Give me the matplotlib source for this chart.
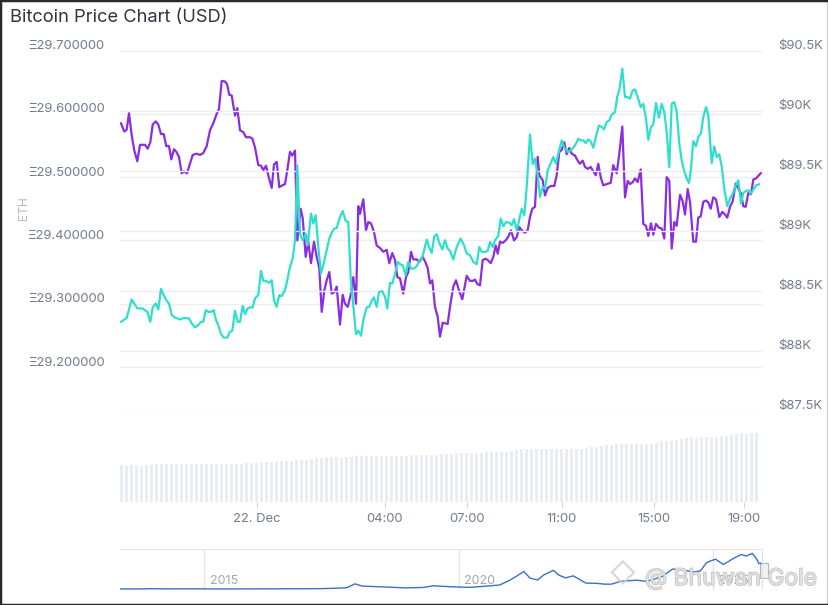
import matplotlib
matplotlib.use("Agg")
import matplotlib.pyplot as plt
import matplotlib.transforms as mtransforms
import matplotlib.patheffects as pe
from matplotlib.patches import Rectangle

plt.rcParams['font.family'] = ['Inter', 'DejaVu Sans']

# position along the (ordinal) time axis, price in ETH
eth_points = [
    (0, 29.585), (3.3, 29.572), (5.7, 29.575), (8, 29.601), (10.7, 29.566), (13.3, 29.542),
    (16.3, 29.525), (19, 29.551), (24, 29.551), (26.7, 29.545), (29.3, 29.555), (31.7, 29.583),
    (34.7, 29.588), (37.3, 29.583), (40, 29.568), (42.7, 29.568), (45.3, 29.549), (48, 29.549),
    (50.3, 29.528), (53, 29.544), (55.3, 29.540), (58, 29.532), (60.7, 29.506), (63, 29.509),
    (66, 29.506), (69, 29.521), (71.7, 29.535), (75.7, 29.537), (79, 29.535), (82.3, 29.538),
    (85.7, 29.549), (89, 29.574), (92.3, 29.585), (95.7, 29.600), (98, 29.608), (100.7, 29.652),
    (104, 29.651), (106, 29.647), (108.3, 29.630), (110.7, 29.629), (114, 29.597), (116.3, 29.609),
    (119, 29.574), (122.3, 29.571), (125, 29.563), (129, 29.563), (131.3, 29.561), (134, 29.547),
    (137.3, 29.519), (140, 29.518), (142.3, 29.511), (145, 29.518), (148, 29.498), (150.7, 29.483),
    (153, 29.520), (155.7, 29.524), (158.3, 29.484), (161.3, 29.487), (164, 29.489), (166.3, 29.511),
    (169, 29.540), (171.3, 29.534), (174, 29.542), (176.3, 29.400), (179.7, 29.450), (181.7, 29.435),
    (184.7, 29.374), (187.3, 29.398), (190, 29.364), (193, 29.398), (195.7, 29.374), (198.3, 29.356),
    (200.7, 29.287), (203.3, 29.321), (205.7, 29.337), (208.3, 29.350), (210.7, 29.316), (213.3, 29.318),
    (215.7, 29.327), (219, 29.267), (221.7, 29.314), (224, 29.300), (226.7, 29.295), (229.7, 29.314),
    (232.3, 29.342), (235, 29.300), (237.3, 29.454), (239, 29.442), (242.3, 29.465), (245, 29.416),
    (247.3, 29.429), (250, 29.427), (253, 29.413), (255.7, 29.392), (259, 29.388), (262.3, 29.382),
    (265.7, 29.385), (268.3, 29.364), (271.3, 29.380), (274, 29.369), (276.3, 29.342), (279, 29.340),
    (282.3, 29.316), (285, 29.342), (287.3, 29.350), (290, 29.382), (292.3, 29.370), (295.7, 29.370),
    (298.3, 29.366), (301.7, 29.374), (304.3, 29.366), (306.7, 29.356), (309, 29.332), (311.3, 29.337),
    (314, 29.295), (316.7, 29.279), (319, 29.248), (321.7, 29.270), (324, 29.269), (326.7, 29.268),
    (329, 29.295), (332.3, 29.327), (335, 29.337), (338, 29.321), (341.3, 29.307), (345.7, 29.344),
    (349, 29.336), (351.7, 29.336), (354, 29.338), (356.3, 29.331), (359, 29.329), (361.7, 29.369),
    (364.7, 29.371), (366.7, 29.369), (369.7, 29.364), (372.3, 29.374), (374.7, 29.392), (376.7, 29.379),
    (379, 29.398), (381.7, 29.396), (384.7, 29.400), (387.3, 29.406), (390, 29.416), (393, 29.400),
    (395.7, 29.405), (398.3, 29.421), (401.3, 29.415), (404, 29.412), (406.7, 29.416), (409, 29.437),
    (411.3, 29.450), (414, 29.453), (416.7, 29.532), (418.3, 29.503), (421.7, 29.495), (424, 29.471),
    (426.7, 29.483), (430, 29.486), (433.3, 29.486), (435.7, 29.503), (438.3, 29.540), (440.7, 29.543),
    (443.3, 29.555), (445.7, 29.536), (448.3, 29.546), (450.7, 29.537), (454, 29.534), (456.7, 29.526),
    (459, 29.521), (461.7, 29.526), (464, 29.516), (466.7, 29.513), (469.7, 29.516), (472.3, 29.509),
    (474.7, 29.503), (477.3, 29.521), (480, 29.498), (482.3, 29.487), (485.7, 29.489), (489.7, 29.491),
    (492.3, 29.519), (495.7, 29.506), (498.3, 29.537), (501.3, 29.580), (504, 29.468), (506.7, 29.494),
    (509, 29.489), (511.7, 29.492), (514, 29.498), (516.7, 29.492), (519.7, 29.512), (522.3, 29.426),
    (525, 29.423), (527.3, 29.407), (530, 29.427), (532.3, 29.409), (535, 29.426), (538, 29.420),
    (540.7, 29.419), (543.3, 29.403), (545.7, 29.500), (548.3, 29.494), (550.7, 29.387), (553.3, 29.429),
    (555.7, 29.423), (559, 29.472), (561.7, 29.462), (564, 29.441), (566.7, 29.481), (569, 29.461),
    (572.3, 29.398), (575, 29.398), (577.3, 29.436), (579.7, 29.438), (582.3, 29.461), (585, 29.463),
    (587.3, 29.460), (589.7, 29.450), (592.3, 29.468), (595, 29.465), (598.3, 29.437), (601.3, 29.445),
    (604, 29.441), (606.3, 29.436), (609, 29.453), (611.7, 29.462), (614.7, 29.490), (617.3, 29.482),
    (620, 29.474), (622.3, 29.454), (624.7, 29.453), (627.3, 29.475), (630, 29.473), (632.3, 29.496),
    (635, 29.498), (638, 29.503), (640.7, 29.508),
]

# position along the time axis, price in USD
usd_points = [
    (0, 88242), (5.7, 88275), (10.7, 88428), (16.3, 88354), (21.3, 88354), (26.3, 88325),
    (29.3, 88242), (31.7, 88362), (34.7, 88395), (37.3, 88345), (40, 88516), (42.7, 88464),
    (45.3, 88422), (48, 88395), (50.7, 88298), (54.7, 88275), (59, 88262), (63, 88275),
    (68, 88270), (70.7, 88229), (74, 88196), (77.3, 88215), (80, 88242), (82.3, 88242),
    (84.7, 88339), (87.3, 88325), (90, 88325), (92.7, 88339), (95, 88256), (97.3, 88215),
    (100, 88140), (103, 88109), (106.3, 88112), (109, 88159), (111.3, 88167), (114, 88334),
    (116.7, 88242), (119, 88242), (121.7, 88375), (124, 88306), (126.7, 88354), (129, 88362),
    (131.7, 88362), (134, 88437), (137.3, 88464), (140, 88666), (142.3, 88583), (145.7, 88580),
    (148, 88566), (150.7, 88589), (153, 88422), (155.7, 88367), (158.3, 88464), (160.7, 88456),
    (164, 88506), (166.3, 88589), (169, 88699), (171.7, 88769), (174, 88921), (176.3, 89544),
    (179, 88977), (181.7, 88921), (184.7, 88977), (186.7, 88880), (190, 89143), (192.3, 89060),
    (194.7, 89129), (197.3, 88865), (200, 88644), (202.3, 88713), (205.7, 88838), (208.3, 88935),
    (210.7, 88982), (213.3, 89018), (215.7, 89023), (219, 89115), (221.7, 89165), (224.7, 89081),
    (227.3, 89073), (229.7, 88603), (235, 88140), (237.3, 88167), (240, 88126), (242.3, 88256),
    (245.7, 88362), (248.3, 88367), (250.7, 88417), (253, 88445), (255.7, 88367), (258, 88491),
    (261.3, 88497), (264, 88450), (266.3, 88354), (269, 88566), (271.3, 88561), (274, 88644),
    (276.7, 88741), (279, 88722), (281.7, 88713), (284.7, 88630), (287.3, 88741), (290, 88686),
    (293, 88686), (295.7, 88705), (298.3, 88749), (301.3, 88782), (303.3, 88844), (305.7, 88927),
    (308, 88865), (310.7, 88816), (313.3, 88954), (315.7, 88971), (318.3, 88899), (321.3, 88844),
    (324, 88921), (326.7, 88852), (329, 88832), (332.3, 88761), (335.7, 88865), (339.7, 88935),
    (343, 88880), (345.7, 88811), (349, 88796), (352.3, 88741), (355.7, 88722), (358.3, 88865),
    (360.7, 88824), (364, 88824), (366.7, 88832), (369, 88907), (371.7, 88865), (374, 88921),
    (377.3, 88957), (379.7, 89101), (382.3, 89037), (385, 89073), (388, 89068), (390.7, 89046),
    (393, 89096), (395.7, 89004), (398.3, 89093), (400.7, 89184), (403.3, 89129), (405.7, 89364),
    (409, 89802), (411.7, 89553), (414, 89600), (416.7, 89461), (419, 89281), (421.7, 89364),
    (424, 89351), (426.7, 89503), (429.3, 89553), (432.3, 89613), (435, 89558), (438.3, 89675),
    (440.7, 89752), (443.3, 89691), (446.7, 89655), (449.7, 89669), (452.3, 89691), (455, 89725),
    (457.3, 89766), (460, 89752), (462.3, 89752), (464.7, 89730), (467.3, 89760), (469.7, 89744),
    (472.3, 89691), (475.7, 89808), (478, 89877), (480.7, 89863), (483, 89843), (485.7, 89904),
    (488.3, 89918), (490.7, 89968), (494, 89987), (496.3, 90118), (498.3, 90168), (501.3, 90348),
    (504, 90112), (506.7, 90112), (509, 90099), (511.7, 90168), (514, 90176), (516.7, 90112),
    (519.7, 90029), (522.3, 90057), (525, 89932), (527.3, 89758), (530, 89863), (532.3, 89885),
    (535, 90062), (538, 89941), (540.7, 90057), (543.3, 89987), (545.7, 89821), (548.3, 89530),
    (550.7, 90057), (553.3, 90070), (555.7, 89987), (558.3, 89725), (560.7, 89586), (563, 89503),
    (565.7, 89434), (568, 89397), (570, 89517), (572.3, 89746), (575, 89702), (577.3, 89780),
    (580, 89813), (582.3, 89946), (585, 90029), (587.3, 89960), (590.7, 89563), (593.3, 89702),
    (595.7, 89613), (598.3, 89636), (600.7, 89536), (603.3, 89351), (606.3, 89204), (609, 89268),
    (611.7, 89309), (614.7, 89378), (617.3, 89420), (620, 89226), (622.3, 89314), (625, 89331),
    (627.3, 89337), (629.7, 89309), (632.3, 89342), (635, 89378), (638, 89386),
]

# bar heights under the price lines (one bar per step of 5 on the time axis)
volume = [
    37.0, 36.5, 36.8, 36.4, 36.2, 37.0,
    38.0, 38.3, 38.2, 38.4, 38.3, 38.1, 38.4, 38.3, 38.2, 38.4, 38.3, 38.0, 38.2, 38.1, 38.0,
    38.0, 38.1, 38.3, 38.2, 38.6, 38.9, 39.2,
    39.6, 39.8, 40.2, 40.5, 40.6,
    41.0, 41.5, 42.0,
    42.3, 42.5, 43.2, 44.0,
    44.5, 44.6, 44.7, 44.6, 44.5, 44.8, 45.5,
    46.0, 46.2, 46.3, 46.1, 46.3, 46.4, 46.2, 46.3, 46.5, 46.4, 46.3, 46.6, 46.7, 47.0,
    47.3, 47.4, 47.3, 47.6, 47.9, 48.4,
    49.0, 49.0, 49.2, 48.9, 49.1, 49.4, 49.8,
    50.3, 50.2, 50.5, 50.4, 51.0, 51.8,
    52.8, 53.3, 53.2, 53.4, 53.3, 53.2, 53.4, 53.3, 53.1, 53.3, 53.4, 53.2, 53.3, 53.6,
    54.6, 55.0, 56.0, 56.6, 57.2,
    58.3, 58.0, 58.4, 58.2, 58.5, 58.3, 58.1, 58.4, 59.0,
    60.6, 61.2, 62.0, 62.3, 63.2,
    64.3, 64.6, 64.5, 64.7, 64.6, 64.8, 65.2,
    66.0, 66.3, 66.6,
    68.2, 68.6, 68.5, 68.7, 68.6,
]

tick_pos = [136, 263.6, 345.7, 440.9, 533, 623]
tick_labels = ["22. Dec", "04:00", "07:00", "11:00", "15:00", "19:00"]

eth_ticks = [29.2, 29.3, 29.4, 29.5, 29.6, 29.7]
usd_ticks = [87500, 88000, 88500, 89000, 89500, 90000, 90500]
usd_labels = ["$87.5K", "$88K", "$88.5K", "$89K", "$89.5K", "$90K", "$90.5K"]

# long-range history for the navigator (year, price in $K)
hist_year = [2013.34, 2013.6, 2013.8, 2013.93, 2014.1, 2014.4, 2014.7, 2015.0, 2015.3, 2015.8,
             2016.0, 2016.5, 2016.9, 2017.3, 2017.6, 2017.8, 2017.96, 2018.1, 2018.3, 2018.6,
             2018.95, 2019.3, 2019.5, 2019.8, 2020.2, 2020.5, 2020.8, 2020.99, 2021.1, 2021.28,
             2021.4, 2021.55, 2021.67, 2021.86, 2021.97, 2022.1, 2022.25, 2022.4, 2022.5, 2022.7,
             2022.87, 2023.0, 2023.2, 2023.5, 2023.7, 2023.9, 2024.0, 2024.2, 2024.4, 2024.6,
             2024.75, 2024.87, 2024.96, 2025.05, 2025.2, 2025.3, 2025.4, 2025.55, 2025.65, 2025.77,
             2025.85, 2025.9, 2025.97]
hist_price = [0.12, 0.10, 0.2, 1.0, 0.7, 0.5, 0.45, 0.3, 0.25, 0.3,
              0.4, 0.65, 0.75, 1.2, 2.6, 4.5, 17.5, 10.0, 8.5, 6.5,
              3.7, 5.2, 11.0, 8.0, 5.5, 9.2, 13.5, 29.0, 40.0, 60.0,
              37.0, 31.0, 48.0, 64.0, 47.0, 38.0, 45.0, 30.0, 20.0, 19.5,
              16.5, 16.6, 27.0, 30.0, 26.0, 37.0, 43.0, 68.0, 66.0, 58.0,
              62.0, 90.0, 97.0, 102.0, 84.0, 94.0, 105.0, 118.0, 113.0, 122.0,
              104.0, 87.0, 88.0]
nav_years = [2015, 2020, 2025]

PURPLE = "#8b2de0"
TEAL = "#2ee0cb"
GRID = "#eceef2"
LABEL = "#737b8c"

W, H = 829, 605
fig = plt.figure(figsize=(W / 100, H / 100), dpi=100)


def box(x0, y0, x1, y1):
    return [x0 / W, 1 - y1 / H, (x1 - x0) / W, (y1 - y0) / H]


# volume bars
axv = fig.add_axes(box(120, 402, 762, 502))
bar_t = [1 + 5 * i for i in range(len(volume))]
axv.bar(bar_t, volume, width=3.0, color="#e9ecf2", linewidth=0)
axv.set_xlim(-1, 641)
axv.set_ylim(0, 100)
axv.patch.set_alpha(0)
for s in axv.spines.values():
    s.set_visible(False)
axv.set_yticks([])
axv.set_xticks(tick_pos)
axv.set_xticklabels(tick_labels)
axv.tick_params(axis="x", length=4, color="#ccd6eb", labelcolor=LABEL,
                labelsize=9.4, pad=4)

# price lines
ax = fig.add_axes(box(120, 50.5, 762, 411))
ax.patch.set_alpha(0)
ax.set_xlim(-1, 641)
ax.set_ylim(29.7 - 360.5 / 633.0, 29.7)
ax.set_yticks(eth_ticks)
ax.set_yticklabels(["\u039e%.6f" % v for v in eth_ticks])
ax.set_xticks([])
ax.grid(axis="y", color=GRID, linewidth=1.0)
ax.set_axisbelow(True)
ax.tick_params(axis="y", length=0, labelcolor=LABEL, labelsize=9.4, pad=11)
for s in ax.spines.values():
    s.set_visible(False)
ax.plot([p[0] for p in eth_points], [p[1] for p in eth_points], color=PURPLE, lw=1.6,
        solid_joinstyle="round", zorder=3)
ax.set_ylabel("ETH", color="#b4bac6", fontsize=8.6)
ax.yaxis.set_label_coords(-90 / 642, 0.563)

ax2 = ax.twinx()
ax2.set_ylim(87500, 90500)
ax2.set_yticks(usd_ticks)
ax2.set_yticklabels(usd_labels)
ax2.grid(axis="y", color=GRID, linewidth=1.0)
ax2.tick_params(axis="y", length=0, labelcolor=LABEL, labelsize=9.4, pad=11.5)
for s in ax2.spines.values():
    s.set_visible(False)
ax2.plot([p[0] for p in usd_points], [p[1] for p in usd_points], color=TEAL, lw=1.6,
         solid_joinstyle="round", zorder=2)

up = mtransforms.ScaledTranslation(0, 6 / 100, fig.dpi_scale_trans)
for lab in ax.get_yticklabels() + ax2.get_yticklabels():
    lab.set_transform(lab.get_transform() + up)

# navigator
axn = fig.add_axes(box(120, 549, 763, 590))
axn.plot(hist_year, hist_price, color="#3d6fc6", lw=1.0)
axn.set_xlim(2013.34, 2025.98)
axn.set_ylim(-3.5, 137)
axn.set_xticks([])
axn.set_yticks([])
for s in axn.spines.values():
    s.set_visible(False)
axn.axhline(137, color="#dde1e8", lw=1.2)
axn.axvline(2025.96, color="#dde1e8", lw=1.0)
for yr in nav_years:
    axn.axvline(yr, color="#e3e6ec", lw=1.0, zorder=0)
    axn.text(yr + 0.1, 0.22, str(yr), transform=axn.get_xaxis_transform(),
             fontsize=9, color="#a0a6b2", va="center", ha="left")
axn.add_patch(Rectangle((0.996, 0.3), 0.012, 0.35, transform=axn.transAxes,
                        facecolor="#f2f2f2", edgecolor="#b5b5b5", lw=0.8, clip_on=False))

# title and watermark
fig.text(10 / W, 1 - 18 / H, "Bitcoin Price Chart (USD)", fontsize=13.2, color="#2f3641",
         ha="left", va="center")
fig.text(645 / W, 1 - 579 / H, "@ Bhuwan Gole", fontsize=16.5, color="#e4e4e4", alpha=0.9,
         ha="left", va="center",
         path_effects=[pe.withStroke(linewidth=1.0, foreground="#b8b8b8")])
fig.text(623 / W, 1 - 575 / H, "\u25c7", fontsize=19, color="#cfcfcf", alpha=0.8,
         ha="center", va="center")

# frame around the picture
fig.add_artist(Rectangle((0, 0), 1, 1, transform=fig.transFigure, fill=False,
                         edgecolor="#2a2a2a", lw=2.5))

fig.savefig("out.png", dpi=100)
